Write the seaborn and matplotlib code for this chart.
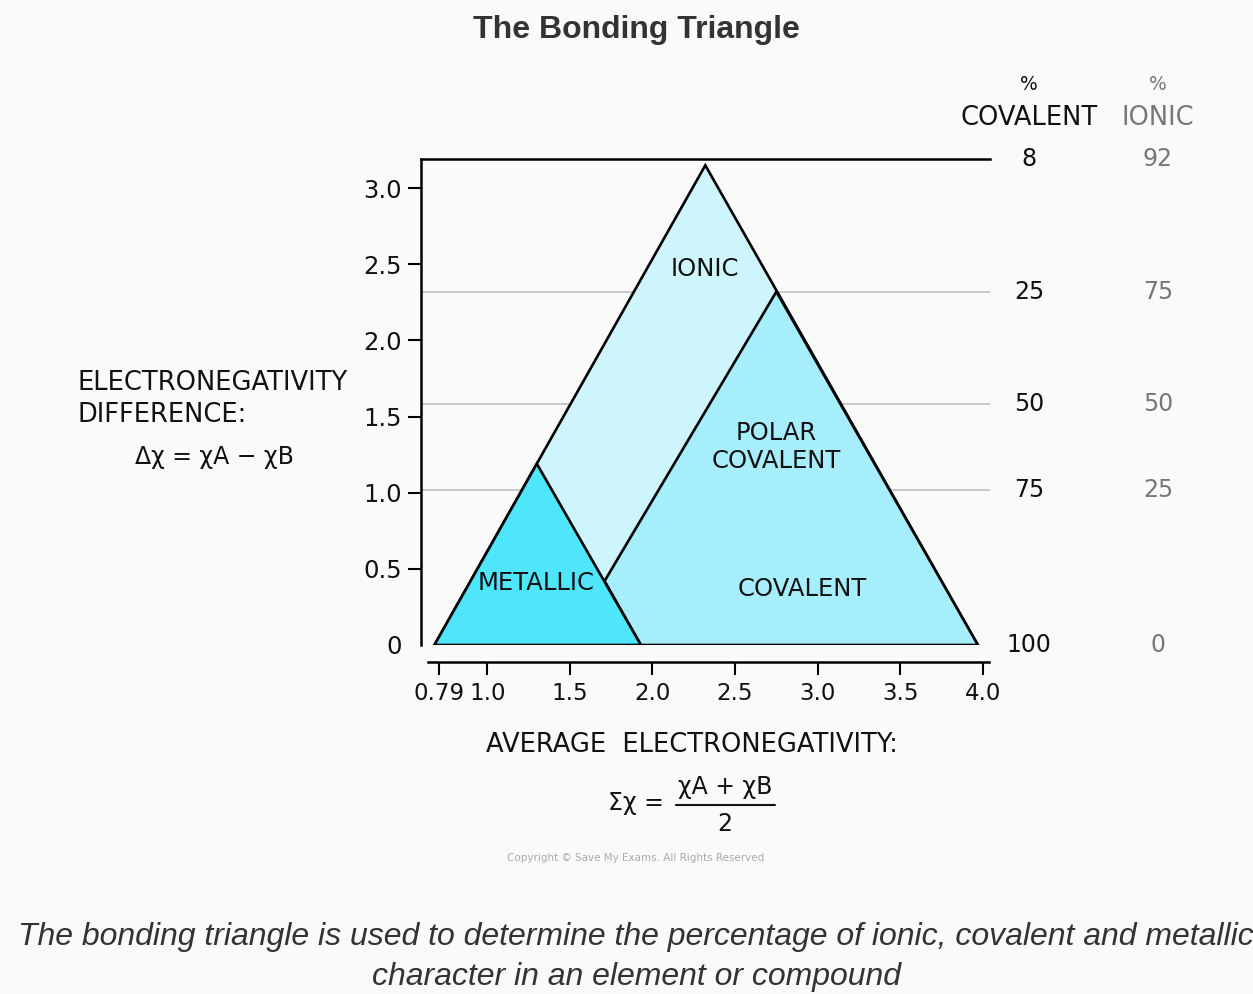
import matplotlib
matplotlib.use("Agg")
import matplotlib.pyplot as plt
import seaborn as sns

# region outlines (x: average EN, y: EN difference)
outer_x = [0.68, 2.32, 3.97]
outer_y = [0.0, 3.15, 0.0]
metallic_x = [0.68, 1.30, 1.93]
metallic_y = [0.0, 1.19, 0.0]
covalent_x = [1.71, 2.75, 3.97, 1.93]
covalent_y = [0.42, 2.32, 0.0, 0.0]

# percentage bands on the right
band_levels = [3.19, 2.32, 1.58, 1.02, 0.0]
pct_covalent = ["8", "25", "50", "75", "100"]
pct_ionic = ["92", "75", "50", "25", "0"]

x_ticks = [0.706, 1.0, 1.5, 2.0, 2.5, 3.0, 3.5, 4.0]
x_tick_labels = ["0.79", "1.0", "1.5", "2.0", "2.5", "3.0", "3.5", "4.0"]
y_ticks = [0.0, 0.5, 1.0, 1.5, 2.0, 2.5, 3.0]
y_tick_labels = ["0", "0.5", "1.0", "1.5", "2.0", "2.5", "3.0"]

ionic_c = "#cff5fc"
covalent_c = "#a6eefc"
metallic_c = "#4fe5fa"
bg = "#fafafa"
ink = "#111111"

sns.set_theme(style="ticks", rc={"axes.facecolor": bg, "figure.facecolor": bg})
plt.rcParams["font.family"] = ["DejaVu Sans"]

W, H = 1253, 994
fig = plt.figure(figsize=(W / 100, H / 100), dpi=100)
ax = fig.add_axes([420.7 / W, 1 - 645 / H, 569.4 / W, 485.8 / H])
ax.set_xlim(0.597, 4.044)
ax.set_ylim(0, 3.19)


def ftext(px, py, s, **kw):
    fig.text(px / W, 1 - py / H, s, **kw)


# grey band lines behind the triangle
ax.hlines(band_levels[1:4], 0.597, 4.044, color="#c4c4c4", lw=1.3, zorder=1)

ax.fill(outer_x, outer_y, facecolor=ionic_c, edgecolor="black", lw=1.9, zorder=2)
ax.fill(covalent_x, covalent_y, facecolor=covalent_c, edgecolor="black", lw=1.9, zorder=3)
ax.fill(metallic_x, metallic_y, facecolor=metallic_c, edgecolor="black", lw=1.9, zorder=4)

lab = dict(ha="center", va="center", fontsize=17.5, color=ink, zorder=5)
ax.text(2.32, 2.47, "IONIC", **lab)
ax.text(2.75, 1.30, "POLAR\nCOVALENT", linespacing=1.2, **lab)
ax.text(2.91, 0.37, "COVALENT", **lab)
ax.text(1.296, 0.41, "METALLIC", **lab)

# right-hand percentage columns
for lvl, c, i in zip(band_levels, pct_covalent, pct_ionic):
    ax.text(4.28, lvl, c, ha="center", va="center", fontsize=17, color=ink)
    ax.text(5.06, lvl, i, ha="center", va="center", fontsize=17, color="#777777")
ax.text(4.28, 3.68, "%", ha="center", va="center", fontsize=13.5, color=ink)
ax.text(5.06, 3.68, "%", ha="center", va="center", fontsize=13.5, color="#777777")
ax.text(4.28, 3.46, "COVALENT", ha="center", va="center", fontsize=18.5, color=ink)
ax.text(5.06, 3.46, "IONIC", ha="center", va="center", fontsize=18.5, color="#777777")

# axes styling
sns.despine(ax=ax, top=False, right=True)
for s in ["left", "top", "bottom"]:
    ax.spines[s].set_color("black")
    ax.spines[s].set_linewidth(1.8)
ax.spines["bottom"].set_position(("outward", 12.5))
ax.spines["bottom"].set_bounds(0.64, 4.038)
ax.set_xticks(x_ticks, x_tick_labels)
ax.set_yticks(y_ticks, y_tick_labels)
ax.tick_params(axis="both", direction="out", length=9.5, width=1.5, color="black",
               labelsize=17.5, labelcolor=ink, top=False, right=False)
ax.tick_params(axis="x", pad=5, labelsize=16.5)
ax.tick_params(axis="y", pad=4)
ax.yaxis.get_major_ticks()[0].tick1line.set_visible(False)

# left label
ftext(78, 383, "ELECTRONEGATIVITY", ha="left", va="center", fontsize=18.5, color=ink)
ftext(78, 415, "DIFFERENCE:", ha="left", va="center", fontsize=18.5, color=ink)
ftext(214, 457, "Δχ = χA − χB", ha="center", va="center", fontsize=17, color=ink)

# bottom label and formula
ftext(692, 745, "AVERAGE  ELECTRONEGATIVITY:", ha="center", va="center", fontsize=18.5,
      color=ink)
ftext(664, 803, "Σχ =", ha="right", va="center", fontsize=17, color=ink)
ftext(725, 787, "χA + χB", ha="center", va="center", fontsize=17, color=ink)
ftext(725, 824, "2", ha="center", va="center", fontsize=17, color=ink)
fig.add_artist(plt.Line2D([676 / W, 775 / W], [1 - 805 / H, 1 - 805 / H],
                          color=ink, lw=1.5))

ftext(636, 858, "Copyright © Save My Exams. All Rights Reserved", ha="center",
      va="center", fontsize=7.5, color="#aaaaaa")

# title and caption
ftext(636, 30, "The Bonding Triangle", ha="center", va="center", fontsize=23,
      fontweight="bold", color="#333333", family=["Liberation Sans", "DejaVu Sans"])
cap = dict(ha="center", va="center", fontsize=23, style="italic", color="#333333",
           family=["Liberation Sans", "DejaVu Sans"])
ftext(636, 937, "The bonding triangle is used to determine the percentage of ionic, "
      "covalent and metallic", **cap)
ftext(636, 977, "character in an element or compound", **cap)

fig.savefig("out.png", dpi=100, facecolor=bg)
